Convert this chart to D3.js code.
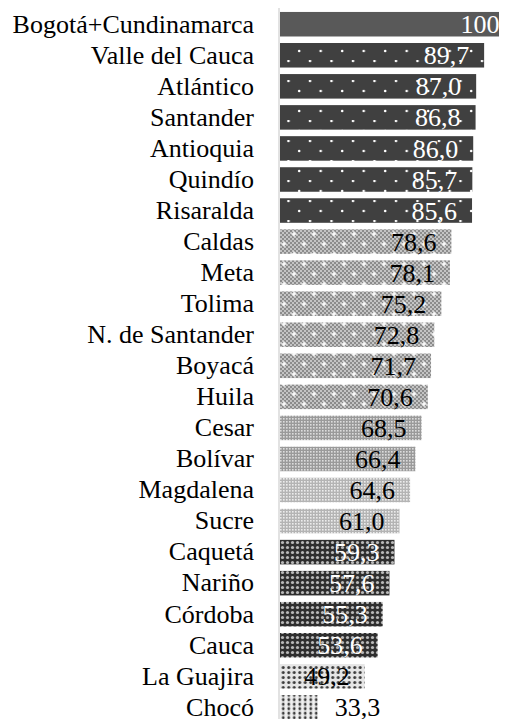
<!DOCTYPE html>
<html>
<head>
<meta charset="utf-8">
<script src="https://cdn.jsdelivr.net/npm/d3@7"></script>
<style>
  body { margin: 0; background: #fff; }
</style>
</head>
<body>
<div id="chart"></div>
<script>
// departamentos y valores (índice)
var categories = ["Bogotá+Cundinamarca", "Valle del Cauca", "Atlántico", "Santander", "Antioquia",
  "Quindío", "Risaralda", "Caldas", "Meta", "Tolima", "N. de Santander", "Boyacá", "Huila",
  "Cesar", "Bolívar", "Magdalena", "Sucre", "Caquetá", "Nariño", "Córdoba", "Cauca",
  "La Guajira", "Chocó"];
var values = [100, 89.7, 87.0, 86.8, 86.0, 85.7, 85.6, 78.6, 78.1, 75.2, 72.8, 71.7, 70.6,
  68.5, 66.4, 64.6, 61.0, 59.3, 57.6, 55.3, 53.6, 49.2, 33.3];

// fill group for each bar (pattern id)
var fillGroup = ["solid", "dkdots", "dkdots", "dkdots", "dkdots", "dkdots", "dkdots",
  "sparkle", "sparkle", "sparkle", "sparkle", "sparkle", "sparkle",
  "midgrid", "midgrid", "ltgrid", "ltgrid",
  "dkgrid", "dkgrid", "dkgrid", "dkgrid", "ltdots", "coldots"];
var darkGroups = ["solid", "dkdots", "dkgrid"];

var serif = "\"Liberation Serif\"";
var fontSize = 26;
var width = 507, height = 719;

var svg = d3.select("#chart").append("svg")
  .attr("width", width)
  .attr("height", height);

var defs = svg.append("defs");

function pat(id, w, h) {
  return defs.append("pattern").attr("id", id)
    .attr("patternUnits", "userSpaceOnUse")
    .attr("width", w).attr("height", h);
}

// solid
var p = pat("solid", 4, 4);
p.append("rect").attr("width", 4).attr("height", 4).attr("fill", "#595959");

// dark with sparse white dots
p = pat("dkdots", 21.5, 20);
p.append("rect").attr("width", 21.5).attr("height", 20).attr("fill", "#404040");
p.append("circle").attr("cx", 9).attr("cy", 1).attr("r", 1.3).attr("fill", "#fff");
p.append("circle").attr("cx", 19.7).attr("cy", 11).attr("r", 1.3).attr("fill", "#fff");

// checker with white sparkles
p = pat("sparkle", 20, 20);
p.append("rect").attr("width", 20).attr("height", 20).attr("fill", "#c4c4c4");
for (var i = 0; i < 10; i++) {
  for (var j = 0; j < 10; j++) {
    if ((i + j) % 2 === 0) {
      p.append("rect").attr("x", i * 2).attr("y", j * 2).attr("width", 2).attr("height", 2).attr("fill", "#8c8c8c");
    }
  }
}
[[4, 4], [14, 14]].forEach(function(c) {
  p.append("rect").attr("x", c[0] - 0.7).attr("y", c[1] - 2.5).attr("width", 1.4).attr("height", 5).attr("fill", "#fff");
  p.append("rect").attr("x", c[0] - 2.5).attr("y", c[1] - 0.7).attr("width", 5).attr("height", 1.4).attr("fill", "#fff");
});

// mid grey grid
p = pat("midgrid", 3, 3);
p.append("rect").attr("width", 3).attr("height", 3).attr("fill", "#9a9a9a");
p.append("rect").attr("x", 1).attr("y", 1).attr("width", 1.6).attr("height", 1.6).attr("fill", "#dcdcdc");

// light grey grid
p = pat("ltgrid", 3, 3);
p.append("rect").attr("width", 3).attr("height", 3).attr("fill", "#b4b4b4");
p.append("rect").attr("x", 1).attr("y", 1).attr("width", 1.6).attr("height", 1.6).attr("fill", "#ececec");

// dark grid with light dots
p = pat("dkgrid", 5, 5);
p.append("rect").attr("width", 5).attr("height", 5).attr("fill", "#2e2e2e");
p.append("circle").attr("cx", 2.5).attr("cy", 2.5).attr("r", 1.6).attr("fill", "#b8b8b8");

// light with dark dots
p = pat("ltdots", 5.5, 5);
p.append("rect").attr("width", 5.5).attr("height", 5).attr("fill", "#e6e6e6");
p.append("circle").attr("cx", 2.75).attr("cy", 2.5).attr("r", 1.5).attr("fill", "#3a3a3a");

// columns of dots
p = pat("coldots", 5.5, 4.5);
p.append("rect").attr("width", 5.5).attr("height", 4.5).attr("fill", "#f0f0f0");
p.append("rect").attr("x", 1.6).attr("y", 0).attr("width", 2.4).attr("height", 4.5).attr("fill", "#c8c8c8");
p.append("circle").attr("cx", 2.75).attr("cy", 2.25).attr("r", 1.3).attr("fill", "#333");

var x = d3.scaleLinear().domain([20.5, 94.74]).range([280, 499]);
var xBar = x.copy().clamp(true);

var y = d3.scaleBand()
  .domain(categories)
  .range([8.7, 722.9])
  .paddingInner(0.21)
  .paddingOuter(0.105);

var rows = categories.map(function(c, i) {
  return { name: c, value: values[i], fill: fillGroup[i] };
});

svg.selectAll(".bar")
  .data(rows)
  .enter().append("rect")
  .attr("class", "bar")
  .attr("x", x(20.5))
  .attr("y", function(d) { return y(d.name); })
  .attr("width", function(d) { return xBar(d.value) - x(20.5); })
  .attr("height", y.bandwidth())
  .attr("fill", function(d) { return "url(#" + d.fill + ")"; });

// category axis
var yAxis = svg.append("g")
  .attr("transform", "translate(" + 279 + ",0)")
  .call(d3.axisLeft(y).tickSize(0).tickPadding(25));
yAxis.select(".domain").attr("stroke", "#d9d9d9").attr("stroke-width", 1.5)
  .attr("d", "M0,8V719");
yAxis.selectAll("text")
  .attr("fill", "#000")
  .style("font-family", serif)
  .style("font-size", fontSize + "px");

// value labels
function fmt(v) {
  return v === 100 ? "100" : d3.format(".1f")(v).replace(".", ",");
}

svg.selectAll(".val")
  .data(rows)
  .enter().append("text")
  .attr("class", "val")
  .attr("y", function(d) { return y(d.name) + y.bandwidth() / 2; })
  .attr("dy", "0.35em")
  .style("font-family", serif)
  .style("font-size", fontSize + "px")
  .attr("x", function(d) {
    var w = xBar(d.value) - x(20.5);
    return w < 50 ? xBar(d.value) + 17 : x(d.value) - 15;
  })
  .attr("text-anchor", function(d) {
    return (xBar(d.value) - x(20.5)) < 50 ? "start" : "end";
  })
  .attr("fill", function(d) {
    return darkGroups.indexOf(d.fill) >= 0 ? "#fff" : "#000";
  })
  .text(function(d) { return fmt(d.value); });
</script>
</body>
</html>
